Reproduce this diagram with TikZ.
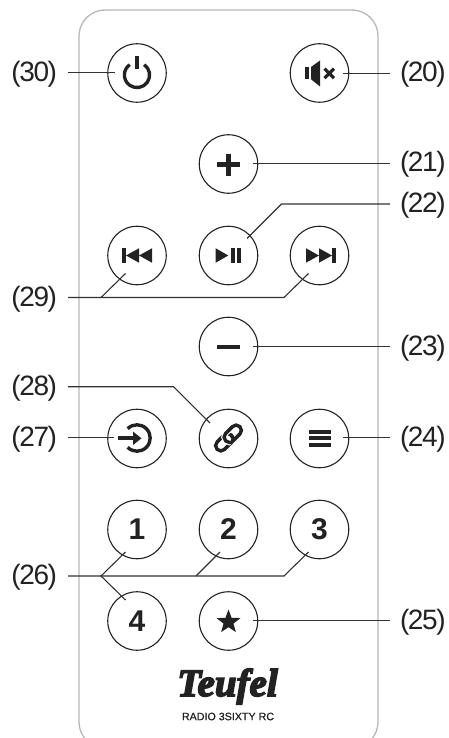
\documentclass[tikz,border=0pt]{standalone}
\usepackage{fontspec}
\setmainfont{Liberation Sans}
\newfontfamily\labelfont[LetterSpace=-5]{Liberation Sans}
\newfontfamily\logofont[FakeBold=4]{Liberation Serif Bold Italic}
\newfontfamily\modelfont[FakeBold=0.6]{Liberation Sans}
\usetikzlibrary{shapes.geometric}
\definecolor{inkc}{HTML}{222222}
\definecolor{linec}{HTML}{333333}
\definecolor{bodyc}{HTML}{B8B8B8}
\tikzset{
  btn/.style={circle,draw=inkc,line width=1.1pt,minimum size=58.5pt,inner sep=0pt,outer sep=0pt,
    font=\bfseries\fontsize{30}{30}\selectfont,text=inkc},
  leftlab/.style={anchor=east,inner sep=0pt,outer xsep=11pt,text height=23pt,text depth=5.9pt,text=inkc,font=\labelfont\fontsize{28}{28}\selectfont},
  rightlab/.style={anchor=west,inner sep=0pt,outer xsep=10pt,text height=23pt,text depth=5.9pt,text=inkc,font=\labelfont\fontsize{28}{28}\selectfont},
  leader/.style={draw=linec,line width=1.1pt,line join=miter},
  iconf/.style={fill=inkc,draw=none},
  icons/.style={draw=inkc,line width=3.4pt,fill=none},
}
\begin{document}
\begin{tikzpicture}[x=1pt,y=-1pt]
\useasboundingbox (0,0) rectangle (448,738);
\fill[white] (0,0) rectangle (448,738);
% body
\begin{scope}
\clip (0,0) rectangle (448,738);
\draw[bodyc,line width=1.3pt,rounded corners=26pt] (79,10) rectangle (378,748);
\end{scope}
% buttons
\node[btn] (b30) at (137,73) {};
\node[btn] (b20) at (319.5,73) {};
\node[btn] (b21) at (228.5,164) {};
\node[btn] (b29a) at (137,255.5) {};
\node[btn] (b22) at (228.5,255.5) {};
\node[btn] (b29b) at (319.5,255.5) {};
\node[btn] (b23) at (228.5,346.5) {};
\node[btn] (b27) at (137,438.5) {};
\node[btn] (b28) at (228.5,438.5) {};
\node[btn] (b24) at (319.5,438.5) {};
\node[btn] (b1) at (137,529.5) {1};
\node[btn] (b2) at (228.5,529.5) {2};
\node[btn] (b3) at (319.5,529.5) {3};
\node[btn] (b4) at (137,621) {4};
\node[btn] (b25) at (228.5,621) {};
% labels
\node[leftlab] (l30) at (68,72.7) {(30)};
\node[leftlab] (l29) at (68,297.5) {(29)};
\node[leftlab] (l28) at (68,386.7) {(28)};
\node[leftlab] (l27) at (68,437.8) {(27)};
\node[leftlab] (l26) at (68,576) {(26)};
\node[rightlab] (l20) at (390,73.3) {(20)};
\node[rightlab] (l21) at (390,163.3) {(21)};
\node[rightlab] (l22) at (390,204) {(22)};
\node[rightlab] (l23) at (390,346.5) {(23)};
\node[rightlab] (l24) at (390,437.8) {(24)};
\node[rightlab] (l25) at (390,620.7) {(25)};
% leader ends and bends
\coordinate (t30) at (115,72.7);
\coordinate (t20) at (343,73.3);
\coordinate (t21) at (253,163.3);
\coordinate (k22) at (281.5,204);
\coordinate (t22) at (247,238.5);
\coordinate (k29a) at (101,297.5);
\coordinate (t29a) at (125.5,273.5);
\coordinate (k29b) at (284,297.5);
\coordinate (t29b) at (308.5,273.5);
\coordinate (t23) at (253,346.5);
\coordinate (k28) at (173.5,386.7);
\coordinate (t28) at (210,423);
\coordinate (t27) at (114,437.8);
\coordinate (t24) at (343,437.8);
\coordinate (k26) at (101,576);
\coordinate (k26b) at (196,576);
\coordinate (k26c) at (284,576);
\coordinate (t261) at (125.5,552);
\coordinate (t262) at (220,552);
\coordinate (t263) at (308.5,552);
\coordinate (t264) at (125.5,600);
\coordinate (t25) at (253,620.7);
% leaders
\draw[leader] (l30.east) -- (t30);
\draw[leader] (l20.west) -- (t20);
\draw[leader] (l21.west) -- (t21);
\draw[leader] (l22.west) -- (k22) -- (t22);
\draw[leader] (l29.east) -- (k29b) -- (t29b);
\draw[leader] (k29a) -- (t29a);
\draw[leader] (l23.west) -- (t23);
\draw[leader] (l28.east) -- (k28) -- (t28);
\draw[leader] (l27.east) -- (t27);
\draw[leader] (l24.west) -- (t24);
\draw[leader] (l26.east) -- (k26c) -- (t263);
\draw[leader] (k26b) -- (t262);
\draw[leader] (t261) -- (k26) -- (t264);
\draw[leader] (l25.west) -- (t25);
% power
\coordinate (cpow) at (137,75);
\draw[icons,line width=3.3pt] (cpow) ++(-55:12.6) arc[start angle=-55,end angle=235,radius=12.6];
\fill[iconf] (135.3,56) rectangle (138.9,69.5);
% mute
\fill[iconf] (305,67) rectangle (309,79.3);
\fill[iconf] (311,67) -- (320,60.5) -- (320,86.5) -- (311,79.3) -- cycle;
\draw[inkc,line width=3.2pt] (324.5,68.7) -- (334,78.2) (334,68.7) -- (324.5,78.2);
% plus
\fill[iconf] (217,162.3) rectangle (240,166.8);
\fill[iconf] (226.2,154) rectangle (230.8,176);
% prev
\fill[iconf] (122,248.3) rectangle (126,262.7);
\fill[iconf] (126,255.5) -- (139,248.3) -- (139,262.7) -- cycle;
\fill[iconf] (139,255.5) -- (152,248.3) -- (152,262.7) -- cycle;
% play
\fill[iconf] (215.7,248.3) -- (228.3,255.5) -- (215.7,262.7) -- cycle;
\fill[iconf] (231,248.3) rectangle (235,262.7);
\fill[iconf] (237.3,248.3) rectangle (241.3,262.7);
% next
\fill[iconf] (306,248.3) -- (319,255.5) -- (306,262.7) -- cycle;
\fill[iconf] (319,248.3) -- (332,255.5) -- (319,262.7) -- cycle;
\fill[iconf] (332.3,248.3) rectangle (336.3,262.7);
% minus
\fill[iconf] (217,344.7) rectangle (240,349);
% input
\coordinate (cin) at (137,438);
\draw[icons,line width=3.4pt] (cin) ++(-135:13.2) arc[start angle=-135,end angle=135,radius=13.2];
\fill[iconf] (118,436.2) rectangle (133,440.4);
\fill[iconf] (133,431.5) -- (141.5,438.3) -- (133,445) -- cycle;
% link
\begin{scope}[shift={(228.5,438)},rotate=45]
\draw[icons,rounded corners=5pt] (-16,-5.2) rectangle (4,5.2);
\draw[white,line width=5.6pt,rounded corners=5pt] (-4,-5.2) rectangle (16,5.2);
\draw[icons,rounded corners=5pt] (-4,-5.2) rectangle (16,5.2);
\draw[white,line width=5.6pt] (-1,5.2) -- (1,5.2);
\draw[icons] (-3,5.2) -- (0,5.2) to[out=0,in=-90] (4,1);
\end{scope}
% menu
\fill[iconf] (309,430) rectangle (331,434);
\fill[iconf] (309,436) rectangle (331,440);
\fill[iconf] (309,442.7) rectangle (331,446.7);
% star
\node[star,star points=5,star point ratio=2.4,fill=inkc,draw=none,minimum size=25pt,inner sep=0pt] (s25) at (228.5,622) {};
% logo
\node[inner sep=0pt,text=inkc,font=\logofont\fontsize{39}{39}\selectfont] (logo) at (227.5,686.5) {Teufel};
\node[inner sep=0pt,text=inkc,font=\modelfont\fontsize{10.7}{12}\selectfont] (model) at (228,716.5) {RADIO 3SIXTY RC};
\end{tikzpicture}
\end{document}
